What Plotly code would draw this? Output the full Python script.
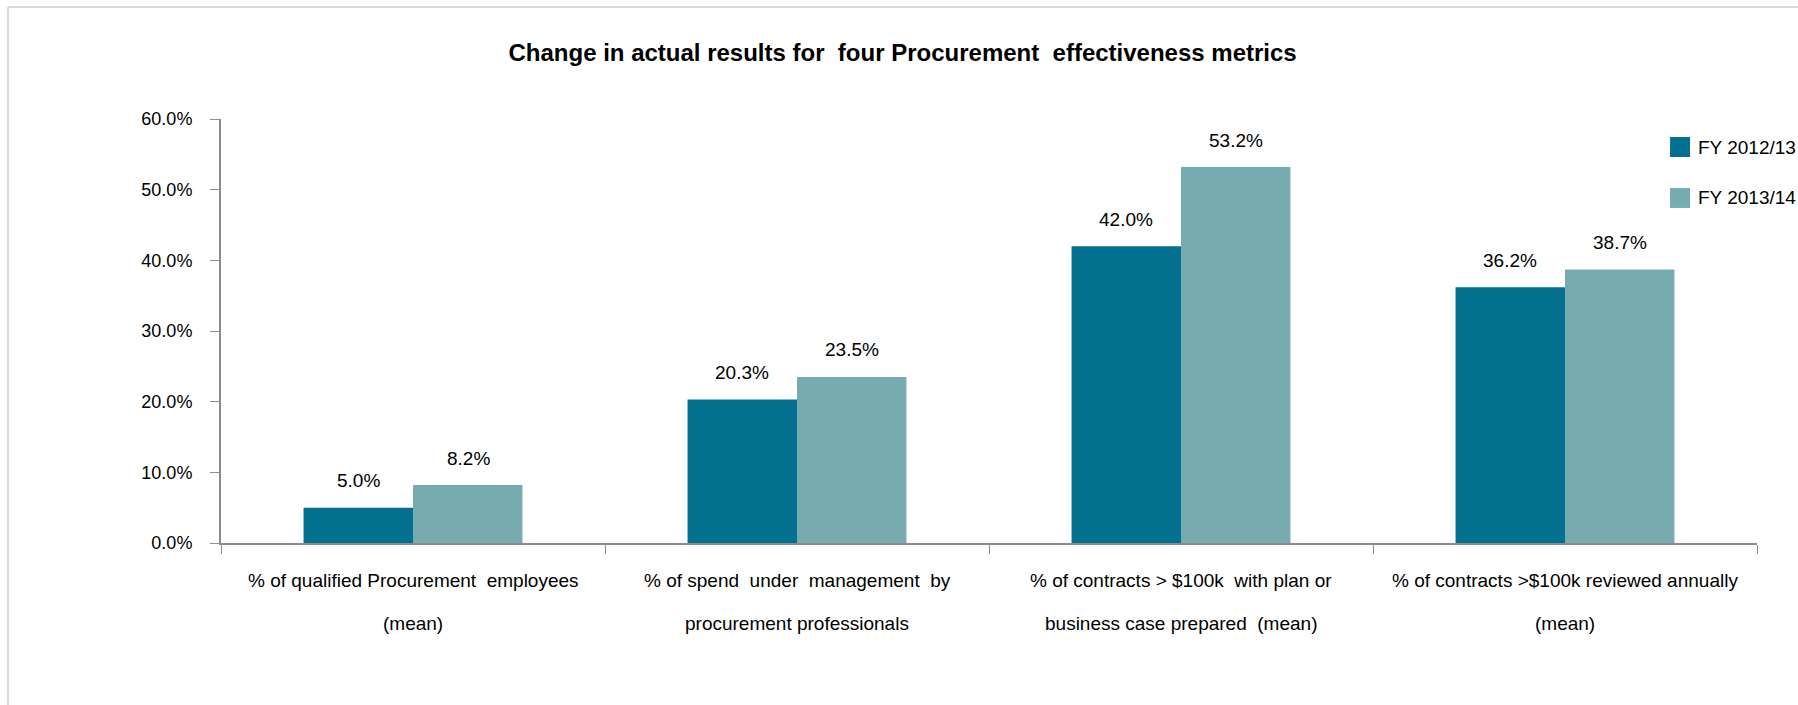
import plotly.graph_objects as go

# Four procurement effectiveness metrics, two fiscal years
category_line1 = [
    "% of qualified Procurement  employees",
    "% of spend  under  management  by",
    "% of contracts > $100k  with plan or",
    "% of contracts >$100k reviewed annually",
]
category_line2 = [
    "(mean)",
    "procurement professionals",
    "business case prepared  (mean)",
    "(mean)",
]
categories = [a + " " + b for a, b in zip(category_line1, category_line2)]
series_names = ["FY 2012/13", "FY 2013/14"]
fy_2012_13 = [0.050, 0.203, 0.420, 0.362]
fy_2013_14 = [0.082, 0.235, 0.532, 0.387]
series_values = [fy_2012_13, fy_2013_14]
series_colors = ["#03708F", "#76ABB0"]
y_ticks = [0.0, 0.1, 0.2, 0.3, 0.4, 0.5, 0.6]
y_tick_labels = ["0.0%", "10.0%", "20.0%", "30.0%", "40.0%", "50.0%", "60.0%"]

FONT = "Liberation Sans, Arial, sans-serif"
AXIS_GREY = "#8C8C8C"

fig = go.Figure()
for name, vals, col in zip(series_names, series_values, series_colors):
    fig.add_trace(go.Bar(
        name=name, x=categories, y=vals,
        marker=dict(color=col, line=dict(width=0)),
        showlegend=False,
    ))

# value labels floating above each bar
bar_half = 55
for i, vals in enumerate(series_values):
    shift = -bar_half if i == 0 else bar_half
    for c, v in zip(categories, vals):
        fig.add_annotation(
            x=c, y=v, xref="x", yref="y", text=f"{v*100:.1f}%",
            showarrow=False, xshift=shift, yshift=27,
            font=dict(family=FONT, size=19, color="#000000"),
        )

# two-line category captions under the axis, with roomy line spacing
for c, l1, l2 in zip(categories, category_line1, category_line2):
    for txt, dy in ((l1, -37), (l2, -80)):
        fig.add_annotation(
            x=c, y=0, xref="x", yref="y", text=txt, showarrow=False,
            yanchor="middle", yshift=dy,
            font=dict(family=FONT, size=19, color="#000000"),
        )

# legend: colour swatch + series name
for k, (name, col) in enumerate(zip(series_names, series_colors)):
    top = 0.9575 - k * 0.1202
    fig.add_shape(type="rect", xref="paper", yref="paper",
                  x0=0.9434, x1=0.9564, y0=top - 0.0471, y1=top,
                  fillcolor=col, line=dict(width=0))
    fig.add_annotation(x=0.9605, y=top - 0.0236, xref="paper", yref="paper",
                       text=name, showarrow=False, xanchor="left",
                       yanchor="middle",
                       font=dict(family=FONT, size=19, color="#000000"))

# light frame along the top and left edges
fig.add_shape(type="line", xref="paper", yref="paper",
              x0=-0.1387, x1=1.03, y0=1.2642, y1=1.2642,
              line=dict(color="#DADADA", width=2))
fig.add_shape(type="line", xref="paper", yref="paper",
              x0=-0.1387, x1=-0.1387, y0=-0.4, y1=1.2642,
              line=dict(color="#DADADA", width=2))

fig.update_layout(
    width=1798, height=705,
    margin=dict(l=221, r=41, t=119, b=162),
    paper_bgcolor="white", plot_bgcolor="white",
    barmode="group", bargap=0.43, bargroupgap=0,
    showlegend=False,
    title=dict(
        text="<b>Change in actual results for  four Procurement  effectiveness metrics</b>",
        x=0.502, xanchor="center", y=0.925, yanchor="middle",
        font=dict(family=FONT, size=24, color="#000000"),
    ),
    font=dict(family=FONT, size=17, color="#000000"),
    xaxis=dict(
        showline=True, linecolor=AXIS_GREY, linewidth=2,
        ticks="outside", tickson="boundaries", ticklen=9,
        tickcolor=AXIS_GREY, tickwidth=1,
        showticklabels=False,
        showgrid=False, zeroline=False, fixedrange=True,
    ),
    yaxis=dict(
        range=[0, 0.6], tickvals=y_ticks, ticktext=y_tick_labels,
        showline=True, linecolor=AXIS_GREY, linewidth=2,
        ticks="outside", ticklen=9, tickcolor=AXIS_GREY, tickwidth=1,
        tickfont=dict(family=FONT, size=18, color="#000000"),
        ticklabelstandoff=14,
        showgrid=False, zeroline=False,
    ),
)

fig.write_html("out.html")
